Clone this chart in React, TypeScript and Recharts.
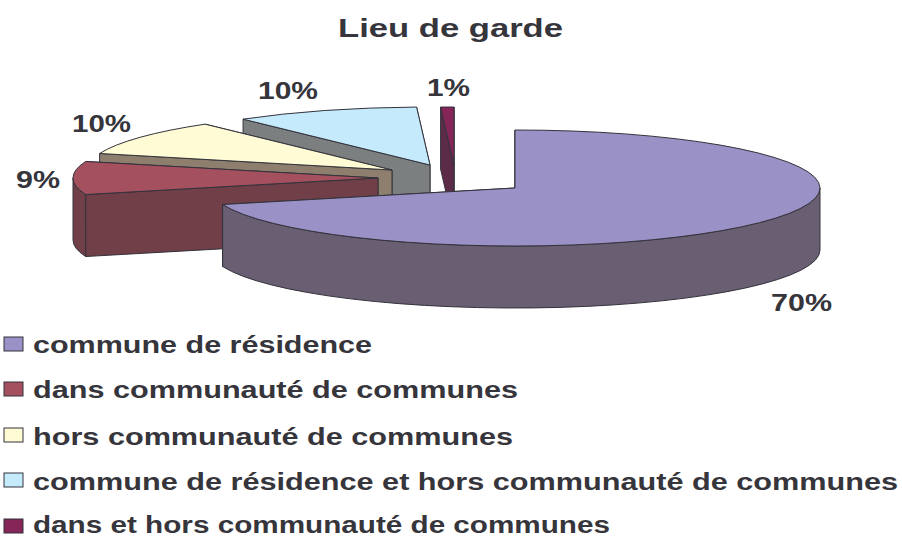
import { PieChart, Pie } from "recharts";

const categories = [
  "commune de résidence",
  "dans communauté de communes",
  "hors communauté de communes",
  "commune de résidence et hors communauté de communes",
  "dans et hors communauté de communes",
];
const values = [70.4, 9.2, 9.9, 9.8, 0.7];

const topColors = ["#9A91C6", "#A5505F", "#FFFBD5", "#C5EAFB", "#852558"];
const wallColors = ["#6A5E72", "#713F48", "#8E7E6E", "#7B7F80", "#5C2B48"];

// where each exploded slice's apex sits, relative to the pie centre
const explode = [
  [0, 0],
  [-137, -10],
  [-123, -18],
  [-85, -23],
  [-61, -23],
];
const labelSpots = [
  { x: 771, y: 311, w: 61 },
  { x: 16, y: 188, w: 44 },
  { x: 72, y: 132, w: 59 },
  { x: 258, y: 99, w: 60 },
  { x: 427, y: 96, w: 43 },
];
const legendRows = [
  { y: 353, w: 339, box: 337 },
  { y: 398, w: 485, box: 382 },
  { y: 445, w: 480, box: 428 },
  { y: 490, w: 865, box: 473 },
  { y: 533, w: 577, box: 519 },
];

const TILT = 58 / 305;
const DEPTH = 62;
const EDGE = "#33333C";
const TEXT = "#35353B";
const FONT = "'Liberation Sans', Arial, sans-serif";

const pieData = categories.map((name, i) => ({ name, value: values[i], idx: i })).reverse();

function Slice3D(props: any) {
  const { cx, cy, outerRadius, startAngle, endAngle, payload } = props;
  const i = payload?.idx ?? props.idx;
  const ox = cx + explode[i][0];
  const oy = cy + explode[i][1];
  const rx = outerRadius;
  const ry = outerRadius * TILT;
  const pt = (a: number, d = 0) => {
    const r = (a * Math.PI) / 180;
    return [ox + rx * Math.cos(r), oy - ry * Math.sin(r) + d];
  };
  const s = Math.min(startAngle, endAngle);
  const e = Math.max(startAngle, endAngle);
  const [sx, sy] = pt(s);
  const [ex, ey] = pt(e);
  const large = e - s > 180 ? 1 : 0;
  const wall = wallColors[i];
  const side = (a: number) => {
    const [x, y] = pt(a);
    return `M${ox},${oy} L${x},${y} L${x},${y + DEPTH} L${ox},${oy + DEPTH} Z`;
  };
  // only the front half of the rim can be seen
  const fs = Math.max(s, 180);
  const fe = Math.min(e, 360);
  let rim = null;
  if (fe > fs) {
    const [ax, ay] = pt(fs);
    const [bx, by] = pt(fe);
    const big = fe - fs > 180 ? 1 : 0;
    rim = (
      <path
        d={`M${ax},${ay} A${rx},${ry} 0 ${big} 0 ${bx},${by} L${bx},${by + DEPTH} A${rx},${ry} 0 ${big} 1 ${ax},${ay + DEPTH} Z`}
        fill={wall}
        stroke={EDGE}
      />
    );
  }
  return (
    <g>
      <path d={side(s)} fill={wall} stroke={EDGE} />
      <path d={side(e)} fill={wall} stroke={EDGE} />
      {rim}
      <path
        d={`M${ox},${oy} L${sx},${sy} A${rx},${ry} 0 ${large} 0 ${ex},${ey} Z`}
        fill={topColors[i]}
        stroke={EDGE}
      />
    </g>
  );
}

function sliceLabel(props: any) {
  const spot = labelSpots[props.payload?.idx ?? props.idx];
  return (
    <text
      x={spot.x}
      y={spot.y}
      textLength={spot.w}
      lengthAdjust="spacingAndGlyphs"
      fontFamily={FONT}
      fontWeight="bold"
      fontSize={24}
      fill={TEXT}
      textAnchor="start"
    >
      {`${Math.round(props.percent * 100)}%`}
    </text>
  );
}

export default function App() {
  return (
    <div style={{ position: "absolute", left: 0, top: 0, width: 902, height: 538 }}>
      <PieChart width={902} height={538} margin={{ top: 0, right: 0, bottom: 0, left: 0 }}>
        <text
          x={338}
          y={37}
          textLength={225}
          lengthAdjust="spacingAndGlyphs"
          fontFamily={FONT}
          fontWeight="bold"
          fontSize={26}
          fill={TEXT}
        >
          Lieu de garde
        </text>
        <Pie
          data={pieData}
          dataKey="value"
          nameKey="name"
          cx={515}
          cy={188}
          outerRadius={305}
          startAngle={90}
          endAngle={450}
          shape={Slice3D}
          label={sliceLabel}
          labelLine={false}
          isAnimationActive={false}
        />
        {categories.map((name, i) => (
          <g key={name}>
            <rect x={4} y={legendRows[i].box} width={19} height={14} fill={topColors[i]} stroke={EDGE} />
            <text
              x={33}
              y={legendRows[i].y}
              textLength={legendRows[i].w}
              lengthAdjust="spacingAndGlyphs"
              fontFamily={FONT}
              fontWeight="bold"
              fontSize={23}
              fill={TEXT}
            >
              {name}
            </text>
          </g>
        ))}
      </PieChart>
    </div>
  );
}
